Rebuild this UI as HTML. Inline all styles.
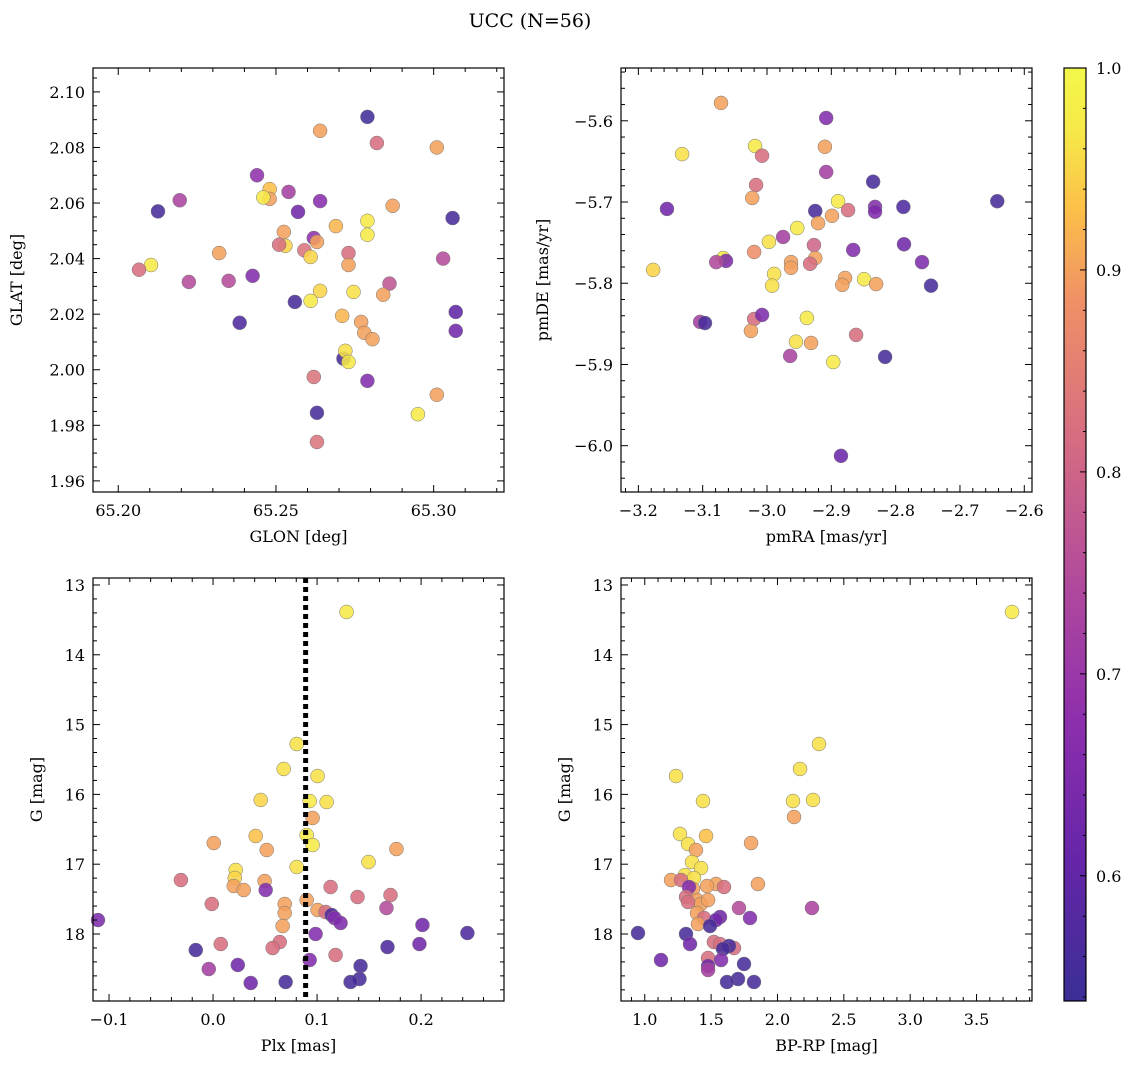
<!DOCTYPE html>
<html><head><meta charset="utf-8">
<style>
html,body{margin:0;padding:0;background:#fff;}
svg{display:block;font-family:"DejaVu Serif","Liberation Serif",serif;}
</style></head>
<body>
<svg id="chart" width="1136" height="1068" viewBox="0 0 1136 1068" xmlns="http://www.w3.org/2000/svg">
<defs>
<linearGradient id="plasma" x1="0" y1="1" x2="0" y2="0">
<stop offset="0" stop-color="#3a2f95"/>
<stop offset="0.15" stop-color="#6525a8"/>
<stop offset="0.3" stop-color="#8d2fad"/>
<stop offset="0.45" stop-color="#b24a9c"/>
<stop offset="0.6" stop-color="#d56c82"/>
<stop offset="0.75" stop-color="#ef9066"/>
<stop offset="0.85" stop-color="#fcc048"/>
<stop offset="0.93" stop-color="#f6e848"/>
<stop offset="1" stop-color="#f3f74a"/>
</linearGradient>
</defs>
<text x="530" y="27" font-size="19" text-anchor="middle">UCC (N=56)</text>
</svg>
<script>
// ---- data ----
const glon=[65.279,65.282,65.264,65.301,65.244,65.248,65.248,65.246,65.254,65.264,65.2126,65.2195,65.257,65.287,65.306,65.269,65.279,65.262,65.2525,65.263,65.253,65.279,65.251,65.232,65.273,65.259,65.261,65.303,65.2104,65.2066,65.273,65.2426,65.2224,65.235,65.286,65.2746,65.264,65.284,65.256,65.261,65.307,65.271,65.2385,65.307,65.277,65.278,65.2806,65.2714,65.272,65.273,65.262,65.279,65.301,65.295,65.263,65.263];
const glat=[2.091,2.0816,2.086,2.080,2.070,2.065,2.0615,2.062,2.064,2.0607,2.057,2.061,2.0568,2.059,2.0546,2.0517,2.0536,2.0474,2.0496,2.046,2.0446,2.0486,2.045,2.042,2.042,2.043,2.0406,2.040,2.0377,2.036,2.0377,2.0338,2.0316,2.032,2.031,2.028,2.0284,2.027,2.0244,2.0248,2.0208,2.0194,2.0169,2.014,2.0172,2.0133,2.011,2.004,2.0068,2.0028,1.9974,1.996,1.991,1.984,1.9845,1.974];
const probA=[0.55,0.82,0.9,0.9,0.68,0.93,0.9,0.97,0.72,0.67,0.56,0.73,0.63,0.9,0.56,0.92,0.97,0.68,0.9,0.9,0.95,0.97,0.82,0.9,0.82,0.83,0.95,0.75,0.97,0.82,0.9,0.66,0.75,0.75,0.77,0.96,0.95,0.9,0.56,0.97,0.6,0.92,0.57,0.63,0.9,0.9,0.9,0.56,0.96,0.97,0.83,0.66,0.9,0.97,0.56,0.83];
const pmra=[-3.0715,-2.908,-3.132,-3.0186,-3.0077,-2.91,-2.908,-2.835,-3.017,-3.023,-2.8895,-2.642,-3.1555,-2.925,-2.832,-2.874,-2.832,-2.788,-2.899,-2.9206,-2.953,-2.975,-2.997,-2.787,-2.927,-3.02,-2.866,-2.925,-2.9626,-2.9626,-3.068,-3.0637,-3.079,-2.933,-2.759,-3.177,-2.989,-2.849,-2.8786,-2.883,-2.8304,-2.992,-2.745,-2.938,-3.02,-3.0077,-3.104,-3.0964,-3.025,-2.8615,-2.955,-2.9315,-2.964,-2.8164,-2.897,-2.885];
const pmde=[-5.578,-5.5965,-5.641,-5.631,-5.643,-5.632,-5.663,-5.675,-5.679,-5.695,-5.699,-5.699,-5.7085,-5.711,-5.706,-5.71,-5.712,-5.706,-5.717,-5.726,-5.732,-5.743,-5.749,-5.752,-5.753,-5.7615,-5.759,-5.769,-5.774,-5.781,-5.769,-5.7725,-5.774,-5.776,-5.774,-5.7836,-5.7885,-5.795,-5.7935,-5.802,-5.801,-5.803,-5.803,-5.8427,-5.844,-5.839,-5.8476,-5.849,-5.8587,-5.8636,-5.872,-5.8735,-5.8895,-5.8907,-5.897,-6.0125];
const probB=[0.9,0.66,0.96,0.97,0.82,0.9,0.72,0.56,0.82,0.9,0.97,0.56,0.63,0.56,0.66,0.82,0.65,0.57,0.9,0.9,0.97,0.72,0.96,0.63,0.8,0.88,0.66,0.9,0.9,0.9,0.97,0.65,0.74,0.82,0.65,0.95,0.96,0.97,0.9,0.9,0.9,0.96,0.56,0.97,0.82,0.65,0.72,0.56,0.9,0.82,0.96,0.9,0.73,0.56,0.97,0.62];
const plx=[0.1284,0.0804,0.0679,0.1005,0.0458,0.0929,0.1092,0.0957,0.09,0.041,0.0957,0.0007,0.0516,0.1763,0.1495,0.0804,0.0218,0.0209,-0.0309,0.0496,0.0199,0.0295,0.0506,0.113,0.1706,0.1389,0.09,0.0689,-0.0012,0.1667,0.1005,0.1082,0.114,0.0689,0.1168,-0.1106,0.1226,0.0669,0.2013,0.2445,0.0986,0.0641,0.0074,0.1984,0.0573,0.1677,-0.0166,0.1178,0.0929,0.0238,0.1418,-0.0041,0.1408,0.0362,0.0698,0.1322];
const gmagC=[13.387,15.278,15.636,15.737,16.08,16.095,16.109,16.338,16.582,16.596,16.725,16.697,16.797,16.783,16.969,17.04,17.083,17.198,17.227,17.241,17.313,17.37,17.37,17.327,17.442,17.47,17.513,17.57,17.57,17.628,17.656,17.685,17.728,17.7,17.771,17.8,17.843,17.886,17.871,17.986,18.0,18.115,18.144,18.144,18.201,18.187,18.23,18.301,18.373,18.444,18.459,18.502,18.645,18.702,18.688,18.688];
const probC=[0.97,0.96,0.96,0.96,0.95,0.97,0.96,0.9,0.97,0.93,0.97,0.9,0.9,0.9,0.96,0.96,0.96,0.95,0.82,0.9,0.9,0.9,0.66,0.82,0.82,0.82,0.9,0.9,0.82,0.75,0.9,0.82,0.57,0.9,0.66,0.65,0.65,0.9,0.63,0.57,0.66,0.82,0.82,0.63,0.82,0.57,0.56,0.82,0.66,0.63,0.56,0.72,0.56,0.63,0.56,0.56];
const bprp=[3.7675,2.313,2.17,1.2355,1.439,2.117,2.268,2.125,1.2656,1.4615,1.326,1.801,1.386,1.356,1.424,1.303,1.371,1.198,1.273,1.537,1.469,1.3636,1.3334,1.597,1.853,1.311,1.3937,1.424,1.326,1.477,1.71,2.26,1.793,1.394,1.567,1.4465,1.537,1.401,1.4917,0.949,1.311,1.521,1.567,1.341,1.6726,1.635,1.59,1.477,1.575,1.477,1.748,1.477,1.7027,1.1224,1.62,1.823];
const gmagD=[13.387,15.278,15.636,15.737,16.095,16.095,16.08,16.324,16.567,16.596,16.711,16.697,16.797,16.969,17.055,17.155,17.198,17.227,17.227,17.284,17.313,17.356,17.327,17.327,17.284,17.47,17.513,17.57,17.542,17.513,17.628,17.628,17.771,17.7,17.757,17.771,17.8,17.857,17.886,17.986,18.0,18.115,18.144,18.144,18.201,18.172,18.215,18.344,18.373,18.459,18.43,18.516,18.645,18.373,18.688,18.688];
const probD=[0.97,0.96,0.96,0.96,0.96,0.96,0.96,0.9,0.96,0.93,0.96,0.9,0.9,0.96,0.96,0.96,0.96,0.9,0.82,0.9,0.9,0.9,0.66,0.82,0.9,0.82,0.9,0.9,0.82,0.9,0.75,0.73,0.66,0.9,0.63,0.82,0.63,0.9,0.56,0.56,0.56,0.82,0.82,0.63,0.82,0.56,0.56,0.82,0.66,0.63,0.56,0.72,0.56,0.63,0.56,0.56];
const plxMedian=0.089;
const cbTicks=[0.6,0.7,0.8,0.9,1.0];

// ---- drawing ----
const NS="http://www.w3.org/2000/svg";
const svg=document.getElementById('chart');
function mk(tag,attrs,parent){const e=document.createElementNS(NS,tag);for(const k in attrs)e.setAttribute(k,attrs[k]);(parent||svg).appendChild(e);return e;}
const stops=[[0,[58,47,149]],[0.15,[101,37,168]],[0.3,[141,47,173]],[0.45,[178,74,156]],[0.6,[213,108,130]],[0.75,[239,144,102]],[0.85,[252,192,72]],[0.93,[246,232,72]],[1,[243,247,74]]];
const cmin=0.538,cmax=1.0;
function cmap(v){let t=(v-cmin)/(cmax-cmin);t=Math.max(0,Math.min(1,t));for(let i=1;i<stops.length;i++){if(t<=stops[i][0]){const a=stops[i-1],b=stops[i];const f=(t-a[0])/(b[0]-a[0]);const c=a[1].map((x,j)=>Math.round(x+(b[1][j]-x)*f));return `rgb(${c[0]},${c[1]},${c[2]})`;}}return 'rgb(243,247,74)';}
function fmt(v,d){const s=Math.abs(v).toFixed(d);return (v<-1e-9?'−':'')+s;}

function panel(o){
  const g=mk('g',{});
  
  
  const sx=v=>o.x0+(v-o.xd[0])/(o.xd[1]-o.xd[0])*(o.x1-o.x0);
  const sy=v=>o.inv? o.y0+(v-o.yd[0])/(o.yd[1]-o.yd[0])*(o.y1-o.y0) : o.y1-(v-o.yd[0])/(o.yd[1]-o.yd[0])*(o.y1-o.y0);
  const pg=mk('g',{},g);
  
  
  o.xs.forEach((_,i)=>{
    const c=mk('circle',{cx:sx(o.xs[i]),cy:sy(o.ys[i]),r:7,fill:cmap(o.ps[i]),'fill-opacity':0.88,stroke:'#777','stroke-width':0.5},pg);
    
    
  });
  if(o.vline!==undefined){
    const l=mk('line',{x1:sx(o.vline),x2:sx(o.vline),y1:o.y0,y2:o.y1,stroke:'#000','stroke-width':5,'stroke-dasharray':'5,4'},g);
    
    
  }
  const fr=mk('rect',{x:o.x0,y:o.y0,width:o.x1-o.x0,height:o.y1-o.y0,fill:'none',stroke:'#000','stroke-width':1.2},g);
  
  
  const xs=o.xt, ys=o.yt;
  for(let v=Math.ceil(o.xd[0]/xs[1]-1e-6)*xs[1];v<=o.xd[1]+1e-9;v+=xs[1]){
    const X=sx(v);const maj=Math.abs(v/xs[0]-Math.round(v/xs[0]))<1e-4;const L=maj?7:4;
    mk('line',{x1:X,x2:X,y1:o.y1,y2:o.y1-L,stroke:'#000','stroke-width':1},g);
    mk('line',{x1:X,x2:X,y1:o.y0,y2:o.y0+L,stroke:'#000','stroke-width':1},g);
    if(maj){const t=mk('text',{x:X,y:o.y1+24,'font-size':16,'text-anchor':'middle'},g);t.textContent=fmt(v,o.xdec);
      
      }
  }
  for(let v=Math.ceil(o.yd[0]/ys[1]-1e-6)*ys[1];v<=o.yd[1]+1e-9;v+=ys[1]){
    const Y=sy(v);const maj=Math.abs(v/ys[0]-Math.round(v/ys[0]))<1e-4;const L=maj?7:4;
    mk('line',{x1:o.x0,x2:o.x0+L,y1:Y,y2:Y,stroke:'#000','stroke-width':1},g);
    mk('line',{x1:o.x1,x2:o.x1-L,y1:Y,y2:Y,stroke:'#000','stroke-width':1},g);
    if(maj){const t=mk('text',{x:o.x0-8,y:Y+6,'font-size':16,'text-anchor':'end'},g);t.textContent=fmt(v,o.ydec);
      
      }
  }
  const xl=mk('text',{x:(o.x0+o.x1)/2,y:o.y1+50,'font-size':16,'text-anchor':'middle'},g);xl.textContent=o.xlab;
  
  
  const yl=mk('text',{x:0,y:0,'font-size':16,'text-anchor':'middle',transform:`translate(${o.ylx},${(o.y0+o.y1)/2}) rotate(-90)`},g);yl.textContent=o.ylab;
  
  
}
panel({name:'panel-glon-glat',x0:93,x1:504,y0:68,y1:492,xd:[65.192,65.3223],yd:[1.956,2.1086],xt:[0.05,0.01],yt:[0.02,0.005],xdec:2,ydec:2,xs:glon,ys:glat,ps:probA,xlab:'GLON [deg]',ylab:'GLAT [deg]',ylx:22});
panel({name:'panel-pmra-pmde',x0:621,x1:1032,y0:68,y1:492,xd:[-3.227,-2.588],yd:[-6.057,-5.535],xt:[0.1,0.02],yt:[0.1,0.02],xdec:1,ydec:1,xs:pmra,ys:pmde,ps:probB,xlab:'pmRA [mas/yr]',ylab:'pmDE [mas/yr]',ylx:548});
panel({name:'panel-plx-g',x0:93,x1:504,y0:578,y1:1001,xd:[-0.1154,0.2797],yd:[12.9,18.96],inv:true,xt:[0.1,0.02],yt:[1,0.2],xdec:1,ydec:0,xs:plx,ys:gmagC,ps:probC,xlab:'Plx [mas]',ylab:'G [mag]',ylx:42,vline:plxMedian});
panel({name:'panel-bprp-g',x0:621,x1:1032,y0:578,y1:1001,xd:[0.821,3.918],yd:[12.9,18.96],inv:true,xt:[0.5,0.1],yt:[1,0.2],xdec:1,ydec:0,xs:bprp,ys:gmagD,ps:probD,xlab:'BP-RP [mag]',ylab:'G [mag]',ylx:570});
const cb=mk('g',{});


const cx0=1064,cx1=1086,cy0=68,cy1=1001;
mk('rect',{x:cx0,y:cy0,width:cx1-cx0,height:cy1-cy0,fill:'url(#plasma)',stroke:'#000','stroke-width':1.2},cb);
const cy=v=>cy1-(v-cmin)/(cmax-cmin)*(cy1-cy0);
for(let k=Math.ceil(cmin/0.02);k*0.02<=cmax+1e-9;k++){const v=k*0.02;const maj=Math.abs(v*10-Math.round(v*10))<1e-4;
  mk('line',{x1:cx1,x2:cx1-(maj?6:3),y1:cy(v),y2:cy(v),stroke:'#000','stroke-width':1},cb);}
cbTicks.forEach(v=>{const t=mk('text',{x:cx1+10,y:cy(v)+6,'font-size':16},cb);t.textContent=v.toFixed(1);
  
  });
</script>
</body></html>
